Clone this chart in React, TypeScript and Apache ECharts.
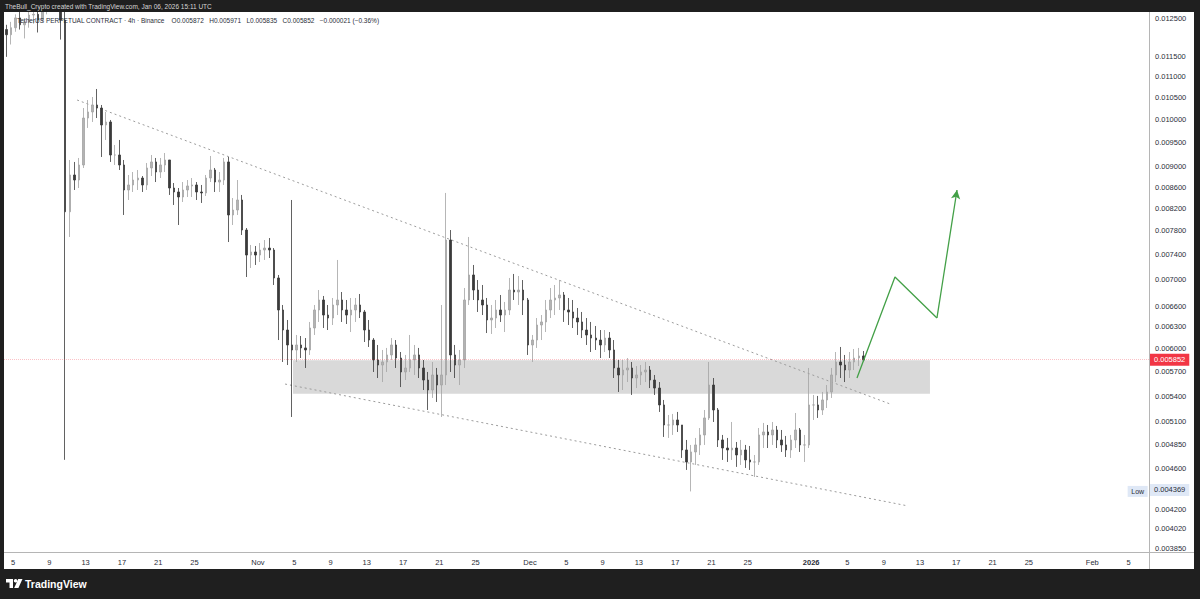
import React, { useEffect, useRef } from "react";
import * as echarts from "echarts";

// 12h candles, x in days since Oct 1 2025 00:00 UTC
const candleStartDay = 3; // Oct 4
const candleStepDays = 0.5;
const firstOpen = 0.01221;

const closes = [
  0.01207, 0.01226, 0.01253, 0.01234, 0.01242, 0.01261, 0.01263, 0.01247, 0.01281, 0.01293,
  0.01298, 0.01287, 0.01247, 0.00814, 0.008834, 0.008736, 0.009033, 0.010028, 0.010164, 0.010323,
  0.010254, 0.009874, 0.00994, 0.009236, 0.009236, 0.009033, 0.008544, 0.00864, 0.008736, 0.008775,
  0.00864, 0.008973, 0.009094, 0.008893, 0.009033, 0.009134, 0.008582, 0.008506, 0.008412, 0.008544,
  0.008621, 0.00864, 0.008506, 0.008488, 0.008775, 0.008933, 0.008697, 0.008736, 0.009094, 0.008082,
  0.008172, 0.008356, 0.007816, 0.007393, 0.007443, 0.007393, 0.007476, 0.007509, 0.007476, 0.007025,
  0.006542, 0.006257, 0.006052, 0.005985, 0.006052, 0.006012, 0.005985, 0.006285, 0.006542, 0.006689,
  0.006469, 0.006426, 0.006615, 0.006689, 0.006542, 0.006469, 0.006542, 0.006615, 0.006513, 0.006257,
  0.006119, 0.005853, 0.005788, 0.005827, 0.005919, 0.006052, 0.005879, 0.005699, 0.00575, 0.005853,
  0.005919, 0.00575, 0.005598, 0.005475, 0.005661, 0.005536, 0.005661, 0.007644, 0.005919, 0.005788,
  0.005853, 0.006689, 0.007072, 0.006839, 0.006689, 0.006615, 0.006398, 0.006426, 0.006542, 0.006469,
  0.006542, 0.006839, 0.006809, 0.006839, 0.006689, 0.006052, 0.006119, 0.006327, 0.00637, 0.006542,
  0.006689, 0.006719, 0.006764, 0.006542, 0.006513, 0.006426, 0.00637, 0.006257, 0.006188, 0.006146,
  0.006119, 0.006052, 0.006146, 0.005985, 0.00575, 0.005661, 0.005724, 0.00575, 0.005623, 0.005661,
  0.005699, 0.005724, 0.005598, 0.005499, 0.005296, 0.005065, 0.005065, 0.005122, 0.005065, 0.004791,
  0.004665, 0.00477, 0.004845, 0.004954, 0.005145, 0.005536, 0.005237, 0.004899, 0.004812, 0.004791,
  0.004812, 0.004738, 0.004791, 0.004686, 0.004665, 0.004665, 0.004954, 0.004987, 0.004954, 0.005009,
  0.004899, 0.004845, 0.004791, 0.004899, 0.005009, 0.004845, 0.004845, 0.005296, 0.005296, 0.005237,
  0.005355, 0.005451, 0.005661, 0.005827, 0.005788, 0.005724, 0.005827, 0.005879, 0.005906, 0.005852,
];

const highs = [
  0.01234, 0.01242, 0.01263, 0.0127, 0.01247, 0.01275, 0.01281, 0.0127, 0.0129, 0.01304,
  0.01319, 0.01313, 0.01298, 0.01275, 0.009134, 0.009094, 0.009175, 0.010254, 0.010438, 0.010508,
  0.010697, 0.010323, 0.010164, 0.009984, 0.009444, 0.00955, 0.009134, 0.008834, 0.008893, 0.008933,
  0.008814, 0.009073, 0.009236, 0.009175, 0.009175, 0.009277, 0.009134, 0.008678, 0.008582, 0.008697,
  0.008736, 0.008775, 0.008697, 0.00864, 0.008834, 0.009216, 0.008973, 0.008893, 0.009175, 0.009195,
  0.008393, 0.008736, 0.00845, 0.007851, 0.00756, 0.007543, 0.007593, 0.007644, 0.007678, 0.007509,
  0.007072, 0.006615, 0.006398, 0.008356, 0.006188, 0.006174, 0.006146, 0.00637, 0.006615, 0.006839,
  0.006749, 0.006615, 0.006719, 0.007312, 0.006809, 0.006689, 0.006719, 0.006719, 0.006779, 0.006542,
  0.006398, 0.006146, 0.006052, 0.005985, 0.006012, 0.006146, 0.006119, 0.005958, 0.005919, 0.006188,
  0.006052, 0.006012, 0.005853, 0.005699, 0.005827, 0.00575, 0.006615, 0.008488, 0.007816, 0.006052,
  0.005985, 0.00687, 0.007696, 0.007231, 0.006993, 0.006916, 0.006719, 0.006615, 0.006689, 0.006764,
  0.00666, 0.007025, 0.007088, 0.007056, 0.006993, 0.006719, 0.006188, 0.006426, 0.006469, 0.006689,
  0.00687, 0.006916, 0.006993, 0.006809, 0.006719, 0.006689, 0.006571, 0.006513, 0.006426, 0.00637,
  0.006313, 0.006257, 0.006257, 0.006229, 0.006119, 0.005853, 0.005853, 0.005879, 0.005827, 0.005775,
  0.005788, 0.005827, 0.005775, 0.005661, 0.005573, 0.005355, 0.005179, 0.005191, 0.005214, 0.005065,
  0.004899, 0.004845, 0.004921, 0.005031, 0.005237, 0.005827, 0.005623, 0.00526, 0.004954, 0.004921,
  0.005099, 0.004877, 0.004899, 0.004845, 0.004834, 0.004738, 0.005031, 0.005088, 0.005065, 0.005099,
  0.005054, 0.005009, 0.004943, 0.004954, 0.005202, 0.005031, 0.004954, 0.00575, 0.005415, 0.005403,
  0.005451, 0.005536, 0.00575, 0.005958, 0.006025, 0.005919, 0.005958, 0.005998, 0.006012, 0.005971,
];

const lows = [
  0.01149, 0.01181, 0.01215, 0.01221, 0.01197, 0.01226, 0.01237, 0.01213, 0.01242, 0.01263,
  0.01275, 0.0127, 0.01194, 0.004687, 0.007696, 0.008544, 0.008582, 0.008973, 0.009809, 0.00994,
  0.010028, 0.009195, 0.00955, 0.009094, 0.009033, 0.008933, 0.008082, 0.008356, 0.008506, 0.008544,
  0.008506, 0.008544, 0.008814, 0.008697, 0.008775, 0.008893, 0.00845, 0.008264, 0.007904, 0.008319,
  0.008412, 0.008412, 0.008356, 0.008301, 0.008431, 0.008697, 0.008506, 0.008506, 0.00864, 0.00761,
  0.007904, 0.008082, 0.00773, 0.00704, 0.007183, 0.007231, 0.007279, 0.007312, 0.007344, 0.006916,
  0.006119, 0.005827, 0.005788, 0.005156, 0.005827, 0.005879, 0.00575, 0.005919, 0.006188, 0.00637,
  0.006285, 0.006257, 0.006327, 0.006469, 0.00637, 0.006341, 0.006229, 0.00637, 0.006426, 0.006092,
  0.006025, 0.005699, 0.005623, 0.005573, 0.005699, 0.005853, 0.00575, 0.005511, 0.005598, 0.005699,
  0.005661, 0.005623, 0.005475, 0.005237, 0.005379, 0.005331, 0.005156, 0.005536, 0.005699, 0.005623,
  0.005536, 0.00575, 0.006615, 0.006689, 0.006513, 0.006469, 0.006215, 0.006202, 0.006285, 0.00637,
  0.006229, 0.006469, 0.006689, 0.006615, 0.006469, 0.005919, 0.005827, 0.006012, 0.006119, 0.006229,
  0.006426, 0.006469, 0.006542, 0.00637, 0.006327, 0.006285, 0.006188, 0.006146, 0.006052, 0.005958,
  0.005985, 0.005879, 0.005958, 0.005879, 0.005623, 0.005451, 0.005475, 0.005573, 0.005415, 0.005499,
  0.005536, 0.005573, 0.005499, 0.005415, 0.005214, 0.004932, 0.004921, 0.004954, 0.004987, 0.004707,
  0.004583, 0.004369, 0.004634, 0.004738, 0.004845, 0.005122, 0.005099, 0.004823, 0.004686, 0.004665,
  0.004686, 0.004614, 0.004634, 0.004603, 0.004583, 0.004512, 0.004634, 0.004812, 0.004812, 0.004845,
  0.004812, 0.00477, 0.004717, 0.004707, 0.004812, 0.00477, 0.004665, 0.004812, 0.005122, 0.005145,
  0.005179, 0.00526, 0.005379, 0.005573, 0.005623, 0.005573, 0.005623, 0.005724, 0.005775, 0.005835,
];

// Axis ticks
const priceTicks = [
  0.0125, 0.0115, 0.011, 0.0105, 0.01, 0.0095, 0.009, 0.0086, 0.0082, 0.0078, 0.0074, 0.007,
  0.0066, 0.0063, 0.006, 0.0057, 0.0054, 0.0051, 0.00485, 0.0046, 0.0042, 0.00402, 0.00385,
];
const tickDays = [4, 8, 12, 16, 20, 24, 31, 35, 39, 43, 47, 51, 55, 61, 65, 69, 73, 77, 81, 85, 92, 96, 100, 104, 108, 112, 116, 123, 127];
const tickLabels = ["5", "9", "13", "17", "21", "25", "Nov", "5", "9", "13", "17", "21", "25", "Dec", "5", "9", "13", "17", "21", "25", "2026", "5", "9", "13", "17", "21", "25", "Feb", "5"];

// View range
const xMinDay = 3.0;
const xMaxDay = 129.25;
const yMinPrice = 0.003818;
const yMaxPrice = 0.012696;

// Drawings
const lastPrice = 0.005852;
const lowPrice = 0.004369;
const zoneStartDay = 34.87;
const zoneEndDay = 105.1;
const zoneTop = 0.00585;
const zoneBottom = 0.00543;
const upperTrend = [[11.06, 0.010438], [100.69, 0.005308]];
const lowerTrend = [[33.99, 0.005548], [102.68, 0.00423]];
const projection = [[97.05, 0.005623], [101.24, 0.00704], [105.87, 0.006426], [108.08, 0.008544]];
const lowTagDay = 128.0;

const FONT = "'Liberation Sans', Arial, sans-serif";
const FRAME = "#1f1f1f";

export default function App() {
  const ref = useRef<HTMLDivElement>(null);
  useEffect(() => {
    document.body.style.margin = "0";
    const chart = echarts.init(ref.current!, null, { renderer: "svg" });
    const L = Math.log;
    const candles = closes.map((c, i) => {
      const o = i === 0 ? firstOpen : closes[i - 1];
      const x = candleStartDay + candleStepDays * i + candleStepDays / 2;
      return [x, L(o), L(c), L(lows[i]), L(highs[i])];
    });
    const toPt = (p: number[]) => [p[0], L(p[1])];
    const trendStyle = { color: "#9c9c9c", width: 1, type: [2, 3] as any };
    const green = "#43a047";

    const option: any = {
      animation: false,
      backgroundColor: "#ffffff",
      textStyle: { fontFamily: FONT },
      grid: { left: 4, right: 51, top: 12, bottom: 47, containLabel: false },
      xAxis: {
        type: "value",
        min: xMinDay,
        max: xMaxDay,
        axisLine: { show: false },
        axisTick: { show: false },
        splitLine: { show: false },
        axisLabel: {
          customValues: tickDays,
          margin: 6,
          fontSize: 7.5,
          color: "#2a2e39",
          fontFamily: FONT,
          formatter: (v: number) => {
            const i = tickDays.findIndex((d) => Math.abs(d - v) < 1e-6);
            const s = i >= 0 ? tickLabels[i] : "";
            return s === "2026" ? "{b|2026}" : s;
          },
          rich: { b: { fontWeight: "bold", fontSize: 7.5, color: "#2a2e39", fontFamily: FONT } },
        },
      },
      yAxis: {
        type: "value",
        position: "right",
        min: L(yMinPrice),
        max: L(yMaxPrice),
        axisLine: { show: false },
        axisTick: { show: false },
        splitLine: { show: false },
        axisLabel: {
          customValues: priceTicks.map((p) => L(p)),
          margin: 6,
          fontSize: 7.5,
          color: "#2a2e39",
          fontFamily: FONT,
          formatter: (v: number) => Math.exp(v).toFixed(6),
        },
      },
      series: [
        {
          type: "line",
          data: upperTrend.map(toPt),
          symbol: "none",
          lineStyle: trendStyle,
          z: 3,
          silent: true,
          markArea: {
            silent: true,
            itemStyle: { color: "#d9d9d9" },
            data: [[{ coord: [zoneStartDay, L(zoneTop)] }, { coord: [zoneEndDay, L(zoneBottom)] }]],
          },
        },
        {
          type: "line",
          data: lowerTrend.map(toPt),
          symbol: "none",
          lineStyle: trendStyle,
          z: 3,
          silent: true,
        },
        {
          type: "candlestick",
          data: candles,
          barWidth: 2,
          clip: true,
          z: 4,
          itemStyle: {
            color: "#b3b3b3",
            color0: "#3a3a3a",
            borderColor: "#a3a3a3",
            borderColor0: "#3a3a3a",
            borderWidth: 0.8,
          },
          markLine: {
            silent: true,
            symbol: ["none", "none"],
            data: [
              {
                yAxis: L(lastPrice),
                lineStyle: { color: "rgba(242,54,69,0.3)", type: "dotted", width: 1 },
                label: {
                  show: true,
                  position: "end",
                  distance: 1,
                  formatter: lastPrice.toFixed(6),
                  backgroundColor: "#f23645",
                  color: "#ffffff",
                  padding: [2, 4],
                  fontSize: 7.5,
                  fontFamily: FONT,
                },
              },
              {
                yAxis: L(lowPrice),
                lineStyle: { color: "rgba(255,255,255,0)", width: 1, type: "solid" },
                label: {
                  show: true,
                  position: "end",
                  distance: 1,
                  formatter: lowPrice.toFixed(6),
                  backgroundColor: "#dfe8f6",
                  color: "#2a2e39",
                  padding: [2, 4],
                  fontSize: 7.5,
                  fontFamily: FONT,
                },
              },
            ],
          },
          markPoint: {
            silent: true,
            data: [
              {
                coord: [lowTagDay, L(lowPrice)],
                symbol: "rect",
                symbolSize: [20, 11],
                itemStyle: { color: "#dfe8f6" },
                label: { show: true, formatter: "Low", color: "#2a2e39", fontSize: 7, fontFamily: FONT },
              },
            ],
          },
        },
        {
          type: "line",
          data: projection.slice(0, 3).map(toPt),
          symbol: "none",
          lineStyle: { color: green, width: 1.3 },
          z: 6,
          silent: true,
          markLine: {
            silent: true,
            symbol: ["none", "arrow"],
            symbolSize: [7, 9],
            lineStyle: { color: green, width: 1.3, type: "solid" },
            label: { show: false },
            data: [[{ coord: toPt(projection[2]) }, { coord: toPt(projection[3]) }]],
          },
        },
      ],
      graphic: [
        { type: "rect", silent: true, z: 100, shape: { x: 0, y: 0, width: 1200, height: 12 }, style: { fill: FRAME } },
        { type: "rect", silent: true, z: 100, shape: { x: 0, y: 569, width: 1200, height: 30 }, style: { fill: FRAME } },
        { type: "rect", silent: true, z: 100, shape: { x: 0, y: 0, width: 4, height: 599 }, style: { fill: FRAME } },
        { type: "rect", silent: true, z: 100, shape: { x: 1194, y: 0, width: 6, height: 599 }, style: { fill: FRAME } },
        { type: "line", silent: true, z: 90, shape: { x1: 4, y1: 552.5, x2: 1194, y2: 552.5 }, style: { stroke: "#b5b5b5", lineWidth: 1 } },
        { type: "line", silent: true, z: 90, shape: { x1: 1149.5, y1: 12, x2: 1149.5, y2: 569 }, style: { stroke: "#b5b5b5", lineWidth: 1 } },
        {
          type: "text",
          silent: true,
          z: 101,
          x: 5,
          y: 6,
          style: {
            text: "TheBull_Crypto created with TradingView.com, Jan 06, 2026 15:11 UTC",
            fill: "#d6d6d6",
            fontSize: 6.5,
            fontFamily: FONT,
            verticalAlign: "middle",
            textVerticalAlign: "middle",
          },
        },
        {
          type: "text",
          silent: true,
          z: 50,
          x: 17,
          y: 20,
          style: {
            text: "TetherUS PERPETUAL CONTRACT · 4h · Binance    O0.005872   H0.005971   L0.005835   C0.005852   −0.000021 (−0.36%)",
            fill: "#2a2e39",
            fontSize: 6.5,
            fontFamily: FONT,
            verticalAlign: "middle",
            textVerticalAlign: "middle",
          },
        },
        {
          type: "group",
          x: 6,
          y: 579,
          z: 101,
          silent: true,
          children: [
            { type: "rect", z: 101, shape: { x: 0, y: 0, width: 7, height: 3.5 }, style: { fill: "#ffffff" } },
            { type: "rect", z: 101, shape: { x: 3.5, y: 0, width: 3.5, height: 9 }, style: { fill: "#ffffff" } },
            { type: "circle", z: 101, shape: { cx: 9.6, cy: 1.8, r: 1.8 }, style: { fill: "#ffffff" } },
            { type: "polygon", z: 101, shape: { points: [[12.2, 0], [16.5, 0], [12.4, 9], [8.2, 9]] }, style: { fill: "#ffffff" } },
          ],
        },
        {
          type: "text",
          silent: true,
          z: 101,
          x: 25,
          y: 584,
          style: {
            text: "TradingView",
            fill: "#ffffff",
            fontSize: 10.5,
            fontWeight: "bold",
            fontFamily: FONT,
            verticalAlign: "middle",
            textVerticalAlign: "middle",
          },
        },
      ],
    };
    chart.setOption(option);
    return () => chart.dispose();
  }, []);
  return <div ref={ref} style={{ width: 1200, height: 599 }} />;
}
